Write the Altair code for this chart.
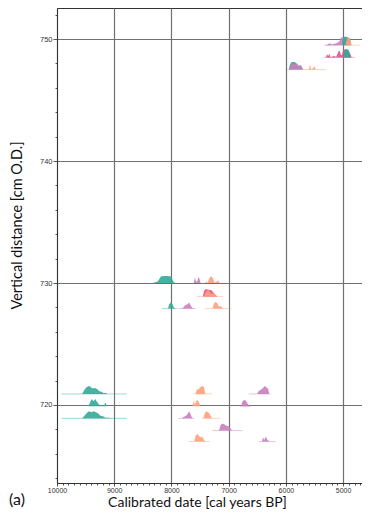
import altair as alt
import pandas as pd

# ---- depths of each sampled level (cm O.D.) ----
row_depths = {
    "T1": 749.5, "T2": 748.5, "T3": 747.5,
    "M1": 730.0, "M2": 728.9, "M3": 727.9,
    "B1": 720.9, "B2": 719.9, "B3": 718.9, "B4": 717.9, "B5": 717.0,
}

# ---- probability distributions: (cal yr BP, relative height in cm) ----
T1_orchid = [(5300, 0), (5260, 0.1), (5230, 0.16), (5200, 0.05), (5150, 0.12), (5100, 0.2),
             (5060, 0.35), (5040, 0.62), (5000, 0.66), (4960, 0.6), (4930, 0.35), (4900, 0)]
T1_teal = [(5020, 0), (5000, 0.64), (4960, 0.72), (4920, 0.66), (4880, 0.55), (4860, 0)]
T1_salmon = [(4960, 0), (4930, 0.6), (4880, 0.55), (4850, 0)]
T2_rose = [(5300, 0), (5280, 0.25), (5260, 0.12), (5240, 0.3), (5220, 0), (5200, 0.06), (5160, 0.12),
           (5120, 0.06), (5080, 0.5), (5060, 0.55), (5040, 0.22), (5020, 0.18), (5000, 0.6),
           (4960, 0.66), (4920, 0.55), (4880, 0.35), (4850, 0)]
T2_teal = [(5000, 0), (4980, 0.6), (4940, 0.68), (4900, 0.6), (4870, 0)]
T3_teal = [(5950, 0), (5930, 0.4), (5900, 0.62), (5850, 0.62), (5820, 0.55), (5790, 0.3),
           (5760, 0.35), (5720, 0.12), (5700, 0)]
T3_orchid = [(5940, 0), (5920, 0.35), (5880, 0.5), (5840, 0.45), (5800, 0.5), (5770, 0.22),
             (5740, 0.4), (5710, 0.12), (5690, 0)]
T3_salmon = [(5600, 0), (5580, 0.4), (5560, 0), (5540, 0.06), (5520, 0.12), (5500, 0.3), (5480, 0)]

M1_teal = [(8330, 0), (8280, 0.06), (8240, 0.12), (8200, 0.4), (8180, 0.55), (8100, 0.58),
           (8020, 0.55), (7990, 0.35), (7960, 0.06), (7930, 0)]
M1_orchid = [(7610, 0), (7590, 0.45), (7570, 0.12), (7550, 0.12), (7530, 0.5), (7510, 0.35), (7490, 0)]
M1_salmon = [(7410, 0), (7390, 0.12), (7370, 0), (7340, 0.35), (7310, 0.55), (7280, 0.45), (7250, 0.06),
             (7220, 0.06), (7180, 0.22), (7160, 0)]
M2_rose = [(7450, 0), (7430, 0.45), (7400, 0.6), (7350, 0.55), (7300, 0.5), (7270, 0.35),
           (7230, 0.12), (7200, 0)]
M2_salmon = [(7430, 0), (7400, 0.35), (7360, 0.55), (7330, 0.4), (7300, 0.22), (7260, 0.28),
             (7220, 0.06), (7200, 0)]
M3_teal = [(8060, 0), (8040, 0.35), (8010, 0.5), (7980, 0.35), (7960, 0.12), (7930, 0)]
M3_orchid = [(7820, 0), (7790, 0.12), (7760, 0.28), (7720, 0.35), (7690, 0.5), (7660, 0.22),
             (7630, 0.06), (7600, 0)]
M3_salmon = [(7280, 0), (7260, 0.4), (7230, 0.55), (7200, 0.45), (7170, 0.18), (7140, 0.22),
             (7110, 0.06), (7090, 0)]

B1_teal = [(9560, 0), (9520, 0.35), (9480, 0.58), (9440, 0.66), (9410, 0.58), (9380, 0.45), (9340, 0.5),
           (9300, 0.4), (9260, 0.22), (9220, 0.18), (9180, 0.06), (9150, 0.1), (9120, 0)]
B1_salmon = [(7580, 0), (7560, 0.35), (7520, 0.4), (7490, 0.58), (7460, 0.66), (7430, 0.55), (7410, 0)]
B1_orchid = [(6500, 0), (6480, 0.22), (6440, 0.35), (6400, 0.5), (6370, 0.66), (6340, 0.55),
             (6310, 0.4), (6290, 0)]
B2_teal = [(9450, 0), (9420, 0.35), (9390, 0.58), (9360, 0.4), (9330, 0.58), (9300, 0.35), (9260, 0.12),
           (9220, 0.06), (9180, 0.06), (9150, 0.3), (9130, 0)]
B2_salmon = [(7630, 0), (7610, 0.45), (7590, 0.12), (7560, 0.5), (7530, 0.4), (7490, 0)]
B2_orchid = [(6780, 0), (6760, 0.4), (6730, 0.5), (6700, 0.45), (6670, 0.22), (6630, 0)]
B3_teal = [(9560, 0), (9520, 0.22), (9480, 0.45), (9440, 0.58), (9400, 0.5), (9360, 0.58), (9320, 0.5),
           (9280, 0.4), (9240, 0.22), (9200, 0.18), (9150, 0.06), (9100, 0.06), (9050, 0.04), (9020, 0)]
B3_orchid = [(7820, 0), (7790, 0.12), (7760, 0.18), (7730, 0.28), (7710, 0.45), (7690, 0.58),
             (7670, 0.35), (7640, 0.06), (7620, 0)]
B3_salmon = [(7440, 0), (7420, 0.4), (7390, 0.58), (7360, 0.5), (7330, 0.35), (7300, 0.06), (7280, 0)]
B4_orchid = [(7170, 0), (7140, 0.45), (7110, 0.58), (7070, 0.5), (7040, 0.4), (7000, 0.35),
             (6970, 0.18), (6940, 0)]
B5_salmon = [(7600, 0), (7580, 0.45), (7550, 0.62), (7520, 0.45), (7490, 0.35), (7460, 0.4),
             (7430, 0.12), (7410, 0)]
B5_orchid = [(6420, 0), (6400, 0.35), (6380, 0.12), (6350, 0.4), (6320, 0.12), (6300, 0.06), (6280, 0)]

# ---- faint calibrated ranges: (row, group, older, younger) ----
ranges = [
    ("T1", "salmon", 5050, 4700), ("T1", "orchid", 5330, 5050),
    ("T2", "rose", 5330, 4800),
    ("T3", "salmon", 5980, 5310),
    ("M2", "salmon", 7560, 7100),
    ("M3", "teal", 8170, 7900), ("M3", "orchid", 7880, 7580), ("M3", "salmon", 7420, 6950),
    ("B1", "teal", 9920, 8780), ("B1", "salmon", 7620, 7290), ("B1", "orchid", 6650, 6270),
    ("B2", "orchid", 6800, 6600),
    ("B3", "teal", 9920, 8780), ("B3", "orchid", 7880, 7600), ("B3", "salmon", 7460, 7150),
    ("B4", "orchid", 7280, 6760),
    ("B5", "salmon", 7700, 7330), ("B5", "orchid", 6470, 6180),
]

components = [
    ("T1", "orchid", T1_orchid), ("T1", "teal", T1_teal), ("T1", "salmon", T1_salmon),
    ("T2", "rose", T2_rose), ("T2", "teal", T2_teal),
    ("T3", "teal", T3_teal), ("T3", "orchid", T3_orchid), ("T3", "salmon", T3_salmon),
    ("M1", "teal", M1_teal), ("M1", "orchid", M1_orchid), ("M1", "salmon", M1_salmon),
    ("M2", "rose", M2_rose), ("M2", "salmon", M2_salmon),
    ("M3", "teal", M3_teal), ("M3", "orchid", M3_orchid), ("M3", "salmon", M3_salmon),
    ("B1", "teal", B1_teal), ("B1", "salmon", B1_salmon), ("B1", "orchid", B1_orchid),
    ("B2", "teal", B2_teal), ("B2", "salmon", B2_salmon), ("B2", "orchid", B2_orchid),
    ("B3", "teal", B3_teal), ("B3", "orchid", B3_orchid), ("B3", "salmon", B3_salmon),
    ("B4", "orchid", B4_orchid),
    ("B5", "salmon", B5_salmon), ("B5", "orchid", B5_orchid),
]

groups = ["rose", "teal", "orchid", "salmon"]
group_colors = ["#e6508c", "#33a898", "#c97fbf", "#ffa07a"]

rows = []
for i, (row, grp, pts) in enumerate(components):
    d = row_depths[row]
    for date, h in pts:
        rows.append({"id": f"{row}_{grp}_{i}", "grp": grp,
                     "date": date, "base": d, "top": d + h})
df = pd.DataFrame(rows)

rdf = pd.DataFrame([{"grp": g, "depth": row_depths[r], "x1": a, "x2": b} for r, g, a, b in ranges])

x_minor = list(range(4700, 10001, 100))
y_minor = list(range(714, 753, 2))

xscale = alt.Scale(domain=[4670, 10000], reverse=True, nice=False, zero=False)
yscale = alt.Scale(domain=[713.6, 752.55], nice=False, zero=False)
cscale = alt.Scale(domain=groups, range=group_colors)

x_axis = alt.Axis(
    values=x_minor, title="Calibrated date [cal years BP]",
    labelExpr="datum.value % 1000 === 0 ? datum.label : ''",
    format="d", labelFontSize=7, labelFont="Liberation Sans", labelColor="#333",
    labelPadding=0, labelFlush=False,
    tickSize={"condition": {"test": "datum.value % 1000 === 0", "value": 3}, "value": 2},
    tickColor="#555",
    gridOpacity={"condition": {"test": "datum.value % 1000 === 0", "value": 1}, "value": 0},
    gridColor="#707070", gridWidth=1.2,
    titleFont="Lato", titleFontSize=14, titleFontWeight="normal", titleColor="#111",
    titleX=140, titleY=19, titleBaseline="middle", titleAlign="center",
    domainColor="#333",
)
y_axis = alt.Axis(
    values=y_minor, title="Vertical distance [cm O.D.]",
    labelExpr="datum.value % 10 === 0 ? datum.label : ''",
    format="d", labelFontSize=7.5, labelFont="Liberation Sans", labelColor="#333",
    labelPadding=1,
    tickSize={"condition": {"test": "datum.value % 10 === 0", "value": 4}, "value": 2},
    tickColor="#555",
    gridOpacity={"condition": {"test": "datum.value % 10 === 0", "value": 1}, "value": 0},
    gridColor="#707070", gridWidth=1.2,
    titleFont="Lato", titleFontSize=14.5, titleFontWeight="normal", titleColor="#111",
    titleX=-40, titleY=217, titleBaseline="middle", titleAlign="center", titleAngle=270,
    domainColor="#333",
)

range_lines = alt.Chart(rdf).mark_rule(strokeWidth=1, opacity=0.45).encode(
    x=alt.X("x1:Q", scale=xscale, axis=x_axis),
    x2="x2:Q",
    y=alt.Y("depth:Q", scale=yscale, axis=y_axis),
    color=alt.Color("grp:N", scale=cscale, legend=None),
)

areas = alt.Chart(df).mark_area(opacity=0.9, interpolate="linear").encode(
    x=alt.X("date:Q", scale=xscale, axis=x_axis),
    y=alt.Y("top:Q", scale=yscale, axis=y_axis),
    y2="base:Q",
    color=alt.Color("grp:N", scale=cscale, legend=None),
    detail="id:N",
)

label = alt.Chart(pd.DataFrame({"t": ["(a)"]})).mark_text(
    align="left", baseline="middle", fontSize=16, font="Lato", color="#111"
).encode(x=alt.value(-48), y=alt.value(492), text="t:N")

chart = alt.layer(range_lines, areas, label).properties(
    width=305, height=475,
    autosize=alt.AutoSizeParams(type="none"),
    padding={"left": 49, "top": 0, "right": 0, "bottom": 29},
).configure_view(stroke="#333", strokeWidth=1)

chart.save("out.html", embed_options={"renderer": "svg", "actions": False})
